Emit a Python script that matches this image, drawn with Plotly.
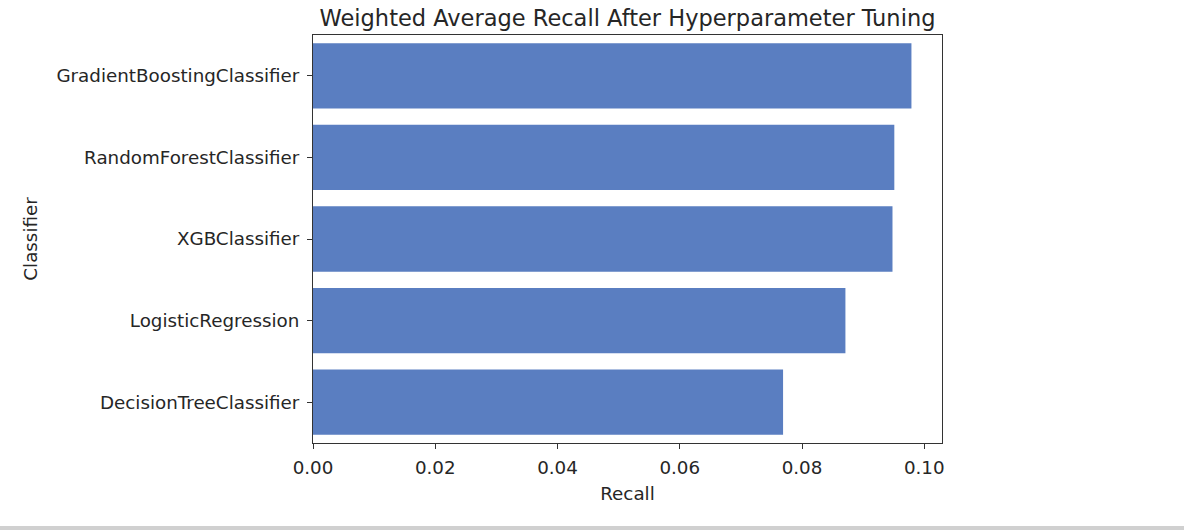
import plotly.graph_objects as go

classifiers = ["GradientBoostingClassifier", "RandomForestClassifier", "XGBClassifier",
               "LogisticRegression", "DecisionTreeClassifier"]
recall = [0.0979, 0.0951, 0.0948, 0.0871, 0.0769]
x_ticks = [0.00, 0.02, 0.04, 0.06, 0.08, 0.10]
x_tick_labels = ["0.00", "0.02", "0.04", "0.06", "0.08", "0.10"]

font_family = "DejaVu Sans"

fig = go.Figure(go.Bar(
    x=recall, y=classifiers, orientation="h",
    marker=dict(color="#5a7ec1", line=dict(width=0)),
    width=0.8,
))

fig.update_layout(
    width=1184, height=530,
    margin=dict(l=313, r=242, t=35, b=87),
    paper_bgcolor="white", plot_bgcolor="white",
    font=dict(family=font_family, size=18.3, color="#262626"),
    showlegend=False,
    title=dict(text="Weighted Average Recall After Hyperparameter Tuning",
               x=(313 + 942) / 2 / 1184, xanchor="center", y=1 - 18 / 530, yanchor="middle",
               font=dict(size=22.5, color="#262626")),
    xaxis=dict(range=[0, 0.1029], tickvals=x_ticks, ticktext=x_tick_labels,
               showgrid=False, zeroline=False, showline=True, mirror=True,
               linecolor="#333333", linewidth=1, ticks="outside", ticklen=5,
               tickcolor="#333333", ticklabelstandoff=3,
               title=dict(text="Recall", font=dict(size=18.3), standoff=10)),
    yaxis=dict(categoryorder="array", categoryarray=classifiers, autorange="reversed",
               showgrid=False, zeroline=False, showline=True, mirror=True,
               linecolor="#333333", linewidth=1, ticks="outside", ticklen=5,
               tickcolor="#333333", ticklabelstandoff=4,
               title=dict(text="Classifier", font=dict(size=18.3), standoff=14)),
    shapes=[dict(type="rect", xref="paper", yref="paper",
                 x0=-313 / 629, x1=(1184 - 313) / 629,
                 y0=-87 / 408, y1=-83 / 408,
                 fillcolor="#d0d0d0", line=dict(width=0), layer="above")],
)

fig.write_html("out.html")
